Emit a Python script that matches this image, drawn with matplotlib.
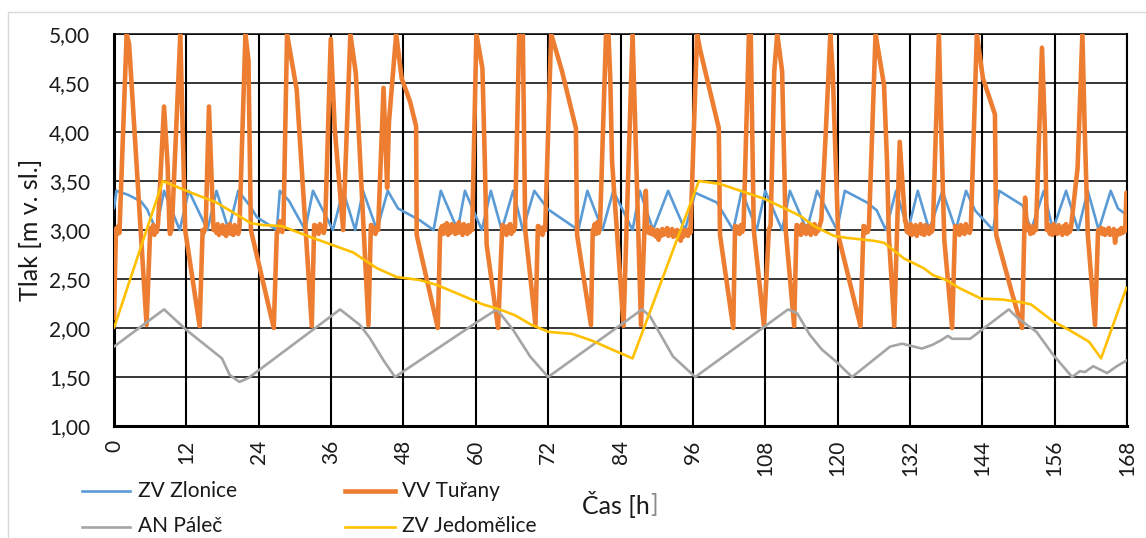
import matplotlib
matplotlib.use("Agg")
import matplotlib.pyplot as plt
import numpy as np
from matplotlib.patches import Rectangle
from matplotlib.lines import Line2D

plt.rcParams['font.family'] = ['Lato', 'DejaVu Sans']

# ---- data: time [h], pressure [m v. sl.] ----
x_ticks = list(range(0, 169, 12))
y_ticks = [1.0, 1.5, 2.0, 2.5, 3.0, 3.5, 4.0, 4.5, 5.0]
y_tick_labels = ["1,00", "1,50", "2,00", "2,50", "3,00", "3,50", "4,00", "4,50", "5,00"]

series_names = ["ZV Zlonice", "VV Tuřany", "AN Páleč", "ZV Jedomělice"]

zlonice = [
    (0, 3.22), (0.4, 3.40), (2.3, 3.36), (4.5, 3.29), (5.5, 3.21), (7.0, 3.00), (8.3, 3.40),
    (10.9, 3.00), (12.4, 3.40), (15.5, 3.00), (17.0, 3.40), (19.0, 3.00), (20.6, 3.40),
    (22.5, 3.25), (23.7, 3.13), (25.5, 3.06), (27.0, 3.00), (27.5, 3.40), (29.0, 3.30),
    (31.7, 3.00), (33.0, 3.40), (36.3, 3.00), (38.0, 3.40), (40.0, 3.00), (41.3, 3.40),
    (43.6, 3.00), (45.4, 3.40), (47.1, 3.22), (50.7, 3.10), (53.0, 3.00), (54.2, 3.40),
    (57.0, 3.00), (58.2, 3.40), (61.0, 3.00), (62.5, 3.40), (64.3, 3.00), (66.2, 3.40),
    (67.8, 3.00), (69.7, 3.40), (72.0, 3.21), (77.0, 3.00), (78.5, 3.40), (81.0, 3.00),
    (82.8, 3.40), (86.0, 3.00), (87.2, 3.40), (89.4, 3.00), (91.9, 3.40), (94.7, 3.00),
    (96.4, 3.38), (100.0, 3.28), (102.7, 3.00), (104.1, 3.40), (106.6, 3.00), (108.0, 3.40),
    (110.8, 3.00), (112.1, 3.40), (114.9, 3.00), (116.6, 3.40), (119.9, 3.00), (121.2, 3.40),
    (124.9, 3.28), (126.5, 3.20), (128.0, 3.00), (129.7, 3.40), (131.7, 3.00), (133.3, 3.40),
    (135.2, 3.00), (137.4, 3.40), (139.6, 3.00), (141.3, 3.40), (142.8, 3.20), (145.8, 3.00),
    (146.8, 3.40), (150.7, 3.25), (152.1, 3.00), (154.2, 3.40), (155.7, 3.00), (157.9, 3.40),
    (159.9, 3.00), (161.5, 3.40), (163.3, 3.00), (165.3, 3.40), (166.5, 3.22), (167.8, 3.16),
]

# Tuřany: turning points of the fill / draw cycles
turany_keys = [
    (0.0, 2.10), (0.3, 2.95),
    (2.1, 5.00), (2.5, 4.90), (5.4, 2.03), (6.0, 3.00),
    (8.3, 4.26), (8.9, 3.65), (9.2, 3.00),
    (11.0, 5.00), (11.8, 3.00), (14.2, 2.02), (14.7, 3.00),
    (15.75, 4.26), (16.5, 3.00),
    (21.8, 5.00), (22.3, 4.73), (22.7, 3.00), (26.5, 2.00), (27.0, 2.97),
    (28.7, 5.00), (30.3, 4.43), (32.8, 2.02), (33.2, 3.05),
    (35.95, 4.95), (36.6, 4.04), (38.0, 3.00), (39.2, 5.00), (40.1, 4.60), (42.2, 2.03), (42.6, 3.05),
    (44.7, 4.45), (45.3, 3.43), (45.6, 4.10), (46.8, 5.00), (47.7, 4.55), (49.1, 4.31),
    (50.1, 4.06), (50.2, 2.95), (53.7, 2.00), (54.1, 3.00),
    (60.1, 5.00), (61.1, 4.65), (61.5, 3.70), (61.8, 2.85), (63.7, 2.00), (64.4, 3.05),
    (67.2, 5.00), (67.8, 5.00), (68.2, 3.00), (69.9, 2.03), (70.3, 3.04),
    (72.5, 5.00), (74.3, 4.62), (76.6, 4.04), (76.8, 2.95), (79.1, 2.03), (79.4, 3.00),
    (81.6, 5.00), (82.0, 5.00), (82.3, 4.55), (82.6, 3.70), (84.5, 2.02), (86.0, 5.00),
    (87.4, 2.03), (88.2, 3.40), (88.4, 3.00),
    (96.7, 5.00), (97.2, 4.84), (100.3, 4.04), (100.5, 2.95), (102.7, 2.00), (103.0, 3.04),
    (105.3, 5.00), (105.6, 5.00), (106.1, 3.00), (107.8, 2.02), (108.6, 3.00), (108.9, 3.05),
    (109.5, 4.62), (110.0, 5.00), (110.8, 4.62), (111.4, 3.00), (112.8, 2.02), (113.2, 3.05),
    (117.3, 3.10), (118.0, 3.94), (118.8, 5.00), (119.2, 4.60), (120.1, 2.95), (123.8, 2.02), (124.3, 3.04),
    (126.3, 5.00), (127.7, 4.48), (128.2, 3.70), (128.5, 2.95), (129.4, 2.02), (130.3, 3.90), (131.2, 3.09),
    (136.8, 5.00), (137.2, 4.00), (137.7, 2.90), (139.0, 2.00), (139.5, 3.04),
    (143.1, 5.00), (144.1, 4.55), (146.1, 4.18), (146.3, 2.95), (149.0, 2.34), (150.6, 2.00),
    (151.1, 3.33), (151.4, 3.00),
    (153.9, 4.86), (154.4, 4.00), (154.7, 3.00),
    (159.8, 3.63), (160.6, 5.00), (161.0, 4.00), (161.5, 2.95), (162.7, 2.03), (163.2, 3.00),
    (167.9, 3.38),
]

# Tuřany: readings while the level hovers around 3 m (start h, end h, readings)
turany_flat = [
    (0.4, 0.9, [3.02, 2.96, 3.04, 2.97]),
    (6.1, 7.3, [3.02, 2.97, 3.05, 2.95, 3.03, 2.98, 3.06]),
    (9.3, 9.6, [2.96, 3.02]),
    (14.85, 15.2, [2.97, 3.03]),
    (16.6, 20.8, [3.00, 3.04, 2.97, 3.06, 2.95, 3.02, 2.98, 3.05, 2.96, 3.03, 2.94,
                  3.04, 2.99, 3.06, 2.96, 3.02, 2.95, 3.05, 2.98, 3.03, 2.96, 3.02]),
    (27.1, 28.1, [2.97, 3.02, 3.09, 3.03, 2.98, 3.04]),
    (33.3, 35.0, [3.05, 2.98, 3.03, 2.96, 3.06, 2.99, 3.04, 2.97, 3.02]),
    (42.7, 43.8, [3.05, 2.98, 3.02, 2.96, 3.03, 3.00]),
    (54.2, 59.4, [3.00, 3.04, 2.96, 3.05, 2.98, 3.07, 2.95, 3.03, 2.97, 3.06, 2.99, 3.04, 2.96, 3.05,
                  2.97, 3.08, 2.98, 3.03, 2.95, 3.06, 2.99, 3.04, 2.96, 3.05, 2.98, 3.02, 3.00]),
    (64.5, 66.5, [3.05, 2.97, 3.03, 2.95, 3.04, 2.98, 3.06, 2.96, 3.02, 2.99, 3.03]),
    (70.4, 71.5, [3.04, 2.97, 3.02, 2.95, 3.03, 3.00]),
    (79.5, 80.6, [3.00, 3.06, 2.96, 3.08, 2.97, 3.04]),
    (88.5, 95.6, [3.02, 2.97, 3.03, 2.96, 3.01, 2.95, 2.99, 2.93, 3.00, 2.90, 2.98, 2.94,
                  3.01, 2.95, 2.99, 2.96, 3.02, 2.94, 2.99, 2.96, 3.01, 2.93, 2.98, 2.95,
                  3.00, 2.92, 2.97, 2.89, 2.96, 2.93, 3.00, 2.95, 2.99, 2.94, 3.01, 2.97]),
    (103.1, 104.4, [3.04, 2.97, 3.03, 2.96, 3.05, 2.98, 3.02]),
    (113.3, 117.2, [3.05, 2.97, 3.03, 2.95, 3.06, 2.98, 3.02, 2.96, 3.04, 2.97,
                    3.05, 2.95, 3.03, 2.98, 3.06, 2.96, 3.02, 2.99, 3.04, 3.08]),
    (124.4, 125.2, [3.04, 2.97, 3.02, 2.98, 3.03]),
    (131.3, 135.8, [3.09, 2.98, 3.04, 2.96, 3.06, 2.95, 3.03, 2.97, 3.05, 2.94, 3.02, 2.98,
                    3.06, 2.96, 3.03, 2.95, 3.05, 2.97, 3.02, 2.96, 3.04, 2.98, 3.01]),
    (139.6, 142.1, [3.04, 2.96, 3.03, 2.95, 3.05, 2.97, 3.02, 2.96, 3.06, 2.98, 3.03, 2.97, 3.02]),
    (151.5, 152.9, [3.00, 3.05, 2.96, 3.03, 2.97, 3.04, 3.00]),
    (154.8, 158.7, [3.00, 3.05, 2.96, 3.04, 2.95, 3.06, 2.97, 3.03, 2.96, 3.05,
                    2.98, 3.02, 2.95, 3.04, 2.97, 3.06, 2.96, 3.03, 2.98, 3.02]),
    (163.3, 167.7, [3.00, 2.97, 3.02, 2.96, 3.01, 2.95, 3.00, 2.97, 3.02, 2.95, 2.99,
                    2.96, 3.01, 2.87, 2.98, 2.95, 3.00, 2.96, 3.02, 2.97, 3.01, 2.99]),
]

palec = [
    (0, 1.81), (8.3, 2.19), (12.0, 1.98), (17.9, 1.69), (19.2, 1.52), (20.8, 1.45), (22.3, 1.49),
    (37.5, 2.19), (40.8, 2.03), (42.4, 1.90), (44.7, 1.67), (46.6, 1.50), (60.2, 2.06),
    (63.5, 2.19), (66.2, 1.98), (69.0, 1.71), (72.0, 1.50), (87.6, 2.19), (88.9, 2.12),
    (92.7, 1.71), (96.4, 1.50), (111.8, 2.19), (113.3, 2.15), (115.4, 1.93), (117.4, 1.78),
    (119.9, 1.65), (122.4, 1.50), (128.7, 1.81), (130.7, 1.84), (132.0, 1.82), (134.0, 1.79),
    (135.8, 1.83), (137.3, 1.88), (138.3, 1.92), (139.0, 1.89), (140.3, 1.89), (142.0, 1.89),
    (143.9, 1.98), (148.4, 2.19), (149.9, 2.10), (153.0, 1.96), (155.7, 1.73), (158.9, 1.50),
    (160.2, 1.56), (161.0, 1.55), (162.4, 1.61), (164.7, 1.54), (166.3, 1.61), (168.0, 1.67),
]

jedomelice = [
    (0, 2.00), (8.1, 3.50), (12.4, 3.39), (17.0, 3.28), (22.7, 3.07), (24.8, 3.05), (27.8, 3.04),
    (32.5, 2.93), (39.7, 2.77), (43.6, 2.61), (46.9, 2.52), (50.7, 2.49), (53.5, 2.44),
    (57.4, 2.34), (61.2, 2.24), (63.5, 2.20), (66.5, 2.13), (69.3, 2.03), (72.1, 1.96),
    (76.0, 1.94), (79.3, 1.87), (82.6, 1.78), (86.0, 1.69), (97.0, 3.50), (100.5, 3.47),
    (103.9, 3.40), (107.8, 3.32), (111.6, 3.21), (113.9, 3.14), (116.1, 3.04), (119.4, 2.94),
    (121.5, 2.92), (126.0, 2.89), (127.7, 2.87), (131.0, 2.71), (134.3, 2.61), (135.8, 2.54),
    (138.0, 2.49), (140.1, 2.41), (143.8, 2.30), (147.4, 2.29), (150.7, 2.26), (152.1, 2.24),
    (155.7, 2.07), (158.4, 1.98), (161.7, 1.86), (163.7, 1.69), (167.9, 2.41),
]

colors = ['#5B9BD5', '#ED7D31', '#A5A5A5', '#FFC000']
widths = [1.9, 3.3, 1.9, 1.9]
text_color = '#1a1a1a'

# assemble Tuřany in time order
tur_pts = list(turany_keys)
for start, end, vals in turany_flat:
    tur_pts += list(zip(np.linspace(start, end, len(vals)), vals))
tur_pts.sort(key=lambda p: p[0])

series = [np.array(zlonice).T, np.array(tur_pts).T, np.array(palec).T, np.array(jedomelice).T]

W, H = 1146, 538
fig = plt.figure(figsize=(W / 100, H / 100), dpi=100)
ax = fig.add_axes([114 / W, 1 - 426 / H, (1127 - 114) / W, (426 - 34) / H])

for i, (xs, ys) in enumerate(series):
    ax.plot(xs, ys, color=colors[i], lw=widths[i], zorder=3 + i,
            solid_joinstyle='round', solid_capstyle='round')

ax.set_xlim(0, 168)
ax.set_ylim(1.0, 5.0)
ax.set_xticks(x_ticks)
ax.set_xticklabels([str(t) for t in x_ticks], rotation=90)
ax.set_yticks(y_ticks)
ax.set_yticklabels(y_tick_labels)
ax.tick_params(axis='both', length=0, labelsize=15, colors=text_color)
ax.tick_params(axis='y', pad=17)
ax.tick_params(axis='x', pad=10)

ax.xaxis.grid(True, color='black', lw=1.5)
ax.yaxis.grid(True, color='black', lw=1.1)
ax.set_axisbelow(True)
for side in ['left', 'bottom']:
    ax.spines[side].set_linewidth(2.2)
    ax.spines[side].set_color('black')
ax.spines['top'].set_linewidth(1.1)
ax.spines['right'].set_linewidth(1.5)
for s in ax.spines.values():
    s.set_zorder(2.5)

fig.text(30 / W, 1 - 230 / H, "Tlak [m v. sl.]", rotation=90, ha='center', va='center',
         fontsize=18, color=text_color)

# x-axis title; the closing bracket is printed in a lighter grey
fig.canvas.draw()
renderer = fig.canvas.get_renderer()
xlab_main = fig.text(0, 1 - 504 / H, "Čas [h", ha='left', va='center', fontsize=18, color=text_color)
xlab_end = fig.text(0, 1 - 504 / H, "]", ha='left', va='center', fontsize=18, color='#8c8c8c')
w_main = xlab_main.get_window_extent(renderer).width
w_end = xlab_end.get_window_extent(renderer).width
x_start = 620 - (w_main + w_end) / 2
xlab_main.set_x(x_start / W)
xlab_end.set_x((x_start + w_main) / W)

# legend: two rows, two columns below the plot
leg_cols = [(82, 130, 138), (345, 395, 402)]
leg_rows = [(491, 497), (527, 532)]
order = [(0, 0, 0), (1, 0, 1), (2, 1, 0), (3, 1, 1)]
for idx, r, c in order:
    x0, x1, xt = leg_cols[c]
    yl, yb = leg_rows[r]
    fig.add_artist(Line2D([x0 / W, x1 / W], [1 - yl / H, 1 - yl / H], color=colors[idx],
                          lw=widths[idx], transform=fig.transFigure))
    fig.text(xt / W, 1 - yb / H, series_names[idx], ha='left', va='baseline',
             fontsize=15, color=text_color)

# chart-area frame
fig.add_artist(Rectangle((8 / W, -0.05), 1.2, 1 - 12 / H + 0.05, fill=False,
                         edgecolor='#D9D9D9', lw=1.0, transform=fig.transFigure))

fig.savefig("out.png", dpi=100)
